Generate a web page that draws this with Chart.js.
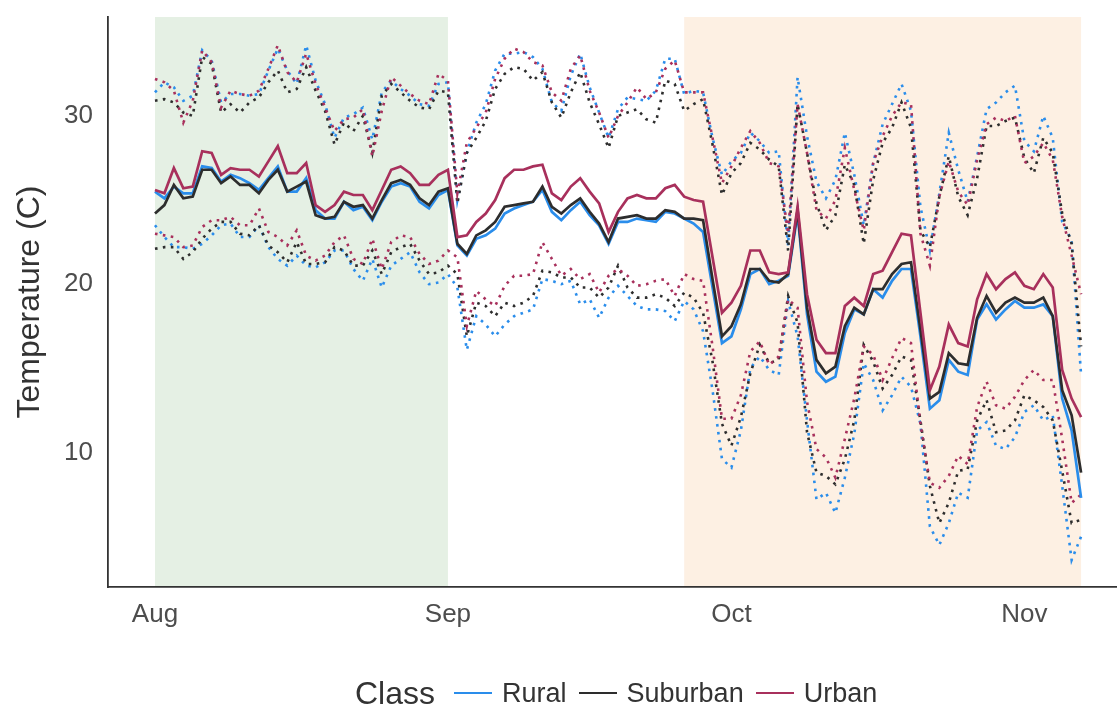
<!DOCTYPE html>
<html>
<head>
<meta charset="utf-8">
<script src="https://cdn.jsdelivr.net/npm/chart.js@4.4.1/dist/chart.umd.min.js"></script>
<style>
  html, body { margin: 0; padding: 0; background: #ffffff; }
  #wrap { position: relative; width: 1117px; height: 707px; }
  #chart { position: absolute; left: 0; top: 0; }
  #legend {
    position: absolute; left: 355px; top: 673px; height: 40px;
    display: flex; align-items: center;
    font-family: "Liberation Sans", Arial, Helvetica, sans-serif; color: #333333;
  }
  #legend .title { font-size: 32px; margin-right: 19px; }
  #legend .key { width: 38px; height: 2.6px; margin-right: 10px; }
  #legend .label { font-size: 27px; margin-right: 12px; }
</style>
</head>
<body>
<div id="wrap">
  <canvas id="chart" width="1117" height="707"></canvas>
  <div id="legend"></div>
</div>
<script>
// Daily temperatures from 1 Aug (day 0) to 7 Nov (day 98), by land-use class.
const classNames = ['Rural', 'Suburban', 'Urban'];

const ruralMean = [
  25.5, 25.1, 25.8, 25.4, 25.4, 27.0, 26.9, 26.1, 26.5, 26.3, 26.0, 25.6, 26.3, 27.0, 25.5, 25.5,
  26.3, 24.4, 23.9, 23.9, 24.9, 24.4, 24.6, 23.8, 24.9, 25.8, 26.0, 25.8, 24.9, 24.5, 25.3, 25.6,
  22.3, 21.7, 22.7, 22.9, 23.3, 24.2, 24.5, 24.7, 24.9, 25.6, 24.3, 23.8, 24.4, 24.9, 24.1, 23.5,
  22.4, 23.7, 23.7, 23.9, 23.8, 23.7, 24.3, 24.2, 23.9, 23.6, 23.1, 19.8, 16.5, 16.9, 18.5, 20.6,
  20.9, 20.0, 20.2, 20.5, 24.2, 18.2, 14.8, 14.2, 14.5, 17.1, 18.5, 18.2, 19.7, 19.2, 20.2, 20.9,
  20.9, 16.9, 12.6, 13.1, 15.5, 14.8, 14.6, 17.9, 18.8, 17.9, 18.5, 19.0, 18.6, 18.6, 18.8, 18.1, 13.2, 11.3, 7.3
];
const suburbanMean = [
  24.2, 24.7, 25.9, 25.1, 25.2, 26.8, 26.8, 26.0, 26.4, 25.9, 25.9, 25.4, 26.2, 26.8, 25.5, 25.8,
  26.1, 24.1, 23.9, 24.0, 24.9, 24.6, 24.7, 23.9, 25.0, 26.0, 26.2, 25.9, 25.1, 24.7, 25.5, 25.7,
  22.4, 21.8, 22.9, 23.2, 23.7, 24.6, 24.7, 24.8, 24.9, 25.8, 24.6, 24.2, 24.7, 25.1, 24.3, 23.6,
  22.5, 23.9, 24.0, 24.1, 23.9, 23.9, 24.4, 24.3, 23.9, 23.9, 23.8, 20.3, 16.9, 17.5, 18.8, 20.9,
  20.9, 20.2, 20.1, 20.6, 24.4, 18.6, 15.5, 14.7, 15.1, 17.5, 18.6, 18.2, 19.7, 19.7, 20.6, 21.2,
  21.3, 17.3, 13.2, 13.6, 15.9, 15.3, 15.2, 18.0, 19.3, 18.3, 18.9, 19.2, 18.9, 18.9, 19.2, 18.1, 13.7, 12.2, 8.8
];
const urbanMean = [
  25.6, 25.4, 26.9, 25.7, 25.8, 27.9, 27.8, 26.5, 26.9, 26.8, 26.8, 26.4, 27.3, 28.2, 26.6, 26.6,
  27.2, 24.7, 24.3, 24.7, 25.5, 25.3, 25.3, 24.4, 25.6, 26.8, 27.0, 26.6, 25.9, 25.9, 26.5, 26.8,
  22.8, 22.9, 23.7, 24.2, 25.0, 26.3, 26.8, 26.8, 27.0, 27.1, 25.4, 25.0, 25.8, 26.3, 25.5, 24.8,
  23.1, 24.3, 25.1, 25.3, 25.1, 25.1, 25.7, 25.9, 25.2, 25.0, 24.9, 21.6, 18.3, 18.9, 19.9, 22.0,
  22.0, 20.7, 20.6, 20.7, 24.6, 19.4, 16.7, 15.9, 15.9, 18.7, 19.2, 18.7, 20.6, 20.8, 21.9, 23.0,
  22.9, 18.3, 13.7, 15.1, 17.6, 16.5, 16.3, 19.1, 20.6, 19.7, 20.3, 20.7, 19.9, 19.7, 20.6, 19.8, 14.9, 13.2, 12.1
];

const ruralMax = [
  31.4, 32.0, 31.7, 30.9, 31.2, 33.9, 33.3, 30.8, 31.3, 31.3, 31.2, 31.3, 32.7, 34.0, 32.7, 31.9,
  34.2, 32.1, 30.7, 28.7, 29.9, 30.1, 30.5, 28.6, 31.4, 32.1, 31.6, 31.2, 30.7, 30.6, 31.9, 32.0,
  25.0, 27.8, 29.6, 30.7, 32.7, 33.7, 33.7, 33.8, 33.5, 32.8, 30.8, 30.3, 32.4, 33.7, 31.7, 30.2,
  28.7, 30.4, 31.1, 31.0, 30.9, 31.5, 33.4, 33.4, 31.3, 31.5, 31.4, 28.7, 26.5, 27.3, 27.8, 29.0,
  28.5, 27.8, 27.9, 22.3, 32.3, 28.8, 26.1, 25.1, 26.2, 29.0, 26.5, 23.5, 27.2, 29.5, 30.7, 31.9,
  30.3, 24.6, 22.0, 25.4, 29.0, 26.8, 24.9, 27.6, 30.4, 30.8, 31.4, 31.8, 28.5, 27.9, 30.0, 28.7, 23.7, 22.6, 14.6
];
const suburbanMax = [
  30.9, 31.0, 30.8, 30.2, 30.0, 33.5, 33.1, 30.2, 30.7, 30.2, 30.8, 31.1, 32.0, 32.7, 31.4, 31.6,
  32.9, 31.5, 30.3, 28.3, 29.6, 29.1, 30.0, 27.8, 31.2, 31.9, 31.4, 30.9, 30.5, 30.4, 31.5, 31.4,
  24.8, 27.8, 28.7, 29.7, 31.6, 32.5, 32.9, 32.8, 32.1, 32.6, 30.8, 29.9, 31.4, 32.6, 30.8, 29.5,
  28.1, 30.0, 30.2, 30.4, 29.8, 29.6, 32.1, 31.9, 30.3, 30.7, 31.0, 28.3, 25.3, 26.6, 27.2, 28.4,
  28.0, 27.4, 27.0, 22.0, 30.7, 27.8, 24.8, 23.2, 24.1, 27.1, 25.9, 22.4, 26.2, 28.4, 29.3, 30.8,
  29.3, 23.2, 22.2, 25.2, 27.6, 25.2, 24.1, 26.3, 29.4, 29.4, 29.7, 29.9, 27.5, 26.6, 28.7, 27.8, 24.2, 22.4, 16.3
];
const urbanMax = [
  32.2, 32.0, 31.5, 29.6, 30.9, 33.9, 33.2, 30.5, 31.5, 31.3, 31.2, 31.5, 32.8, 34.2, 32.6, 32.0,
  33.7, 31.9, 30.5, 29.1, 29.8, 29.9, 30.4, 27.6, 30.3, 32.3, 31.8, 31.3, 30.9, 30.7, 32.5, 32.1,
  25.4, 28.4, 29.3, 30.2, 32.2, 33.4, 34.0, 33.8, 33.2, 33.0, 31.4, 30.9, 32.8, 33.6, 31.5, 30.2,
  28.7, 30.0, 30.8, 31.7, 31.0, 31.4, 32.8, 33.3, 31.4, 31.4, 31.4, 28.7, 26.0, 27.0, 28.1, 29.1,
  28.4, 27.2, 27.0, 23.0, 30.7, 27.8, 24.4, 23.9, 25.0, 28.1, 25.6, 23.2, 27.2, 28.8, 30.0, 30.8,
  30.7, 23.0, 21.1, 25.2, 27.3, 25.5, 24.7, 27.4, 29.5, 29.9, 29.7, 30.0, 27.2, 27.6, 28.4, 27.4, 24.0, 21.7, 19.4
];

const ruralMin = [
  23.5, 22.8, 22.2, 22.2, 22.1, 22.4, 22.9, 23.5, 23.6, 22.8, 22.8, 23.5, 22.2, 21.5, 21.1, 21.7,
  21.1, 21.0, 21.3, 22.0, 22.0, 20.9, 20.2, 21.5, 19.8, 21.1, 21.5, 21.9, 20.7, 20.0, 20.1, 20.6,
  19.8, 16.1, 18.1, 17.6, 16.9, 17.6, 18.1, 18.3, 18.5, 20.3, 20.2, 20.0, 20.2, 18.8, 19.1, 18.0,
  19.2, 19.9, 19.3, 18.7, 18.5, 18.5, 18.4, 17.8, 19.0, 18.5, 17.2, 13.7, 9.6, 9.1, 11.3, 15.0,
  15.7, 14.9, 14.6, 19.0, 16.9, 11.9, 7.2, 7.6, 6.4, 8.5, 11.1, 15.3, 14.3, 12.5, 13.4, 14.5,
  13.9, 11.7, 5.6, 4.5, 5.8, 7.6, 7.3, 11.3, 11.8, 10.4, 10.2, 10.9, 12.4, 12.8, 11.9, 12.2, 8.0, 3.6, 5.0
];
const suburbanMin = [
  22.1, 22.2, 22.2, 21.5, 21.9, 22.7, 23.3, 23.7, 23.7, 23.0, 22.9, 23.5, 22.3, 21.9, 21.3, 22.5,
  21.2, 21.2, 21.3, 22.2, 22.0, 21.1, 21.1, 22.0, 20.6, 21.9, 22.2, 22.4, 21.4, 20.6, 20.7, 21.1,
  20.6, 16.9, 18.9, 18.7, 18.1, 18.9, 18.7, 18.9, 19.3, 20.8, 20.7, 20.4, 20.4, 19.8, 19.8, 19.2,
  19.8, 21.1, 19.8, 19.2, 19.2, 19.4, 19.2, 18.7, 19.5, 19.2, 18.3, 15.4, 11.7, 10.4, 12.1, 14.7,
  16.4, 15.3, 15.5, 19.3, 17.7, 11.2, 8.8, 8.6, 8.1, 9.6, 11.9, 16.4, 15.4, 13.8, 14.6, 15.7,
  15.5, 11.9, 8.0, 5.8, 7.0, 8.9, 9.0, 11.9, 13.1, 11.2, 11.3, 11.9, 13.4, 13.1, 12.7, 11.9, 8.9, 5.8, 6.0
];
const urbanMin = [
  23.0, 22.9, 22.8, 22.2, 22.3, 23.4, 23.8, 23.8, 24.0, 23.5, 23.5, 24.5, 23.1, 22.8, 22.3, 23.2,
  21.7, 21.4, 21.7, 22.5, 22.9, 21.5, 21.2, 22.7, 20.9, 22.5, 22.9, 22.8, 21.8, 21.2, 21.4, 22.0,
  21.6, 17.5, 19.6, 19.1, 18.7, 19.9, 20.5, 20.5, 20.6, 22.5, 21.5, 20.5, 20.9, 20.3, 20.6, 19.5,
  20.5, 20.9, 20.5, 19.9, 20.0, 20.2, 20.3, 19.3, 20.6, 20.3, 20.2, 16.3, 12.0, 12.0, 13.4, 16.0,
  16.6, 15.2, 15.7, 19.1, 18.6, 13.0, 10.2, 9.7, 8.5, 10.8, 13.2, 16.3, 15.8, 14.3, 15.6, 16.8,
  16.5, 11.7, 8.2, 7.9, 8.6, 9.8, 9.3, 12.7, 14.2, 12.8, 12.6, 13.3, 14.3, 14.9, 14.3, 14.3, 10.8, 7.0, 7.5
];

// Month tick labels and the day on which each month starts.
const monthLabels = ['Aug', 'Sep', 'Oct', 'Nov'];
const monthStartDays = [0, 31, 61, 92];
const yTickValues = [10, 20, 30];

// Highlighted periods (first day, last day).
const periodStart = [0, 56];
const periodEnd = [31, 98];

// ---- styling ----
const FONT = '"Liberation Sans", Arial, Helvetica, sans-serif';
const classColors = { Rural: '#2a8deb', Suburban: '#2d2d2d', Urban: '#a8305c' };
const periodColors = ['#e5f0e4', '#fdf0e3'];

const seriesByClass = {
  Rural:    { mean: ruralMean,    max: ruralMax,    min: ruralMin },
  Suburban: { mean: suburbanMean, max: suburbanMax, min: suburbanMin },
  Urban:    { mean: urbanMean,    max: urbanMax,    min: urbanMin }
};

const toPoints = arr => arr.map((v, i) => ({ x: i, y: v }));

// First dataset is drawn last (on top): Urban over Suburban over Rural, solid over dotted.
const drawOrder = ['Urban', 'Suburban', 'Rural'];
const datasets = [];
drawOrder.forEach(name => {
  datasets.push({
    label: name, data: toPoints(seriesByClass[name].mean),
    borderColor: classColors[name], borderWidth: 2.7,
    pointRadius: 0, tension: 0, borderJoinStyle: 'miter'
  });
});
['max', 'min'].forEach(kind => {
  drawOrder.forEach(name => {
    datasets.push({
      label: name + ' ' + kind, data: toPoints(seriesByClass[name][kind]),
      borderColor: classColors[name], borderWidth: 2.6,
      borderDash: [2.6, 5.4], borderCapStyle: 'butt',
      pointRadius: 0, tension: 0
    });
  });
});

const periodBands = {
  id: 'periodBands',
  beforeDraw(chart) {
    const { ctx, chartArea, scales } = chart;
    ctx.save();
    periodStart.forEach((start, i) => {
      const x0 = scales.x.getPixelForValue(start);
      const x1 = scales.x.getPixelForValue(periodEnd[i]);
      ctx.fillStyle = periodColors[i];
      ctx.fillRect(x0, chartArea.top, x1 - x0, chartArea.bottom - chartArea.top);
    });
    ctx.restore();
  }
};

new Chart(document.getElementById('chart'), {
  type: 'line',
  data: { datasets },
  options: {
    responsive: false,
    animation: false,
    events: [],
    layout: { padding: { top: 17, right: 0, bottom: 70, left: 0 } },
    plugins: { legend: { display: false }, tooltip: { enabled: false } },
    scales: {
      x: {
        type: 'linear', min: -4.97, max: 101.8,
        grid: { display: false, drawTicks: false },
        border: { display: true, color: '#333333', width: 1.8 },
        afterBuildTicks: s => { s.ticks = monthStartDays.map(v => ({ value: v })); },
        afterFit: s => { s.height = 50; s.paddingLeft = 0; s.paddingRight = 0; },
        ticks: {
          autoSkip: false, maxRotation: 0, padding: 12, color: '#4d4d4d',
          font: { family: FONT, size: 26 },
          callback: v => monthLabels[monthStartDays.indexOf(v)]
        }
      },
      y: {
        type: 'linear', min: 2.0, max: 35.88,
        grid: { display: false, drawTicks: false },
        border: { display: true, color: '#333333', width: 1.8 },
        afterBuildTicks: s => { s.ticks = yTickValues.map(v => ({ value: v })); },
        afterFit: s => { s.width = 108; s.paddingTop = 0; s.paddingBottom = 0; },
        ticks: { padding: 15, color: '#4d4d4d', font: { family: FONT, size: 26 } },
        title: {
          display: true, text: 'Temperature (C)', color: '#333333',
          font: { family: FONT, size: 32 }, padding: { top: 11, bottom: 0 }
        }
      }
    }
  },
  plugins: [periodBands]
});

// Legend: title plus one line key per class.
const legend = document.getElementById('legend');
const title = document.createElement('span');
title.className = 'title';
title.textContent = 'Class';
legend.appendChild(title);
classNames.forEach(name => {
  const key = document.createElement('span');
  key.className = 'key';
  key.style.background = classColors[name];
  const label = document.createElement('span');
  label.className = 'label';
  label.textContent = name;
  legend.appendChild(key);
  legend.appendChild(label);
});
</script>
</body>
</html>
